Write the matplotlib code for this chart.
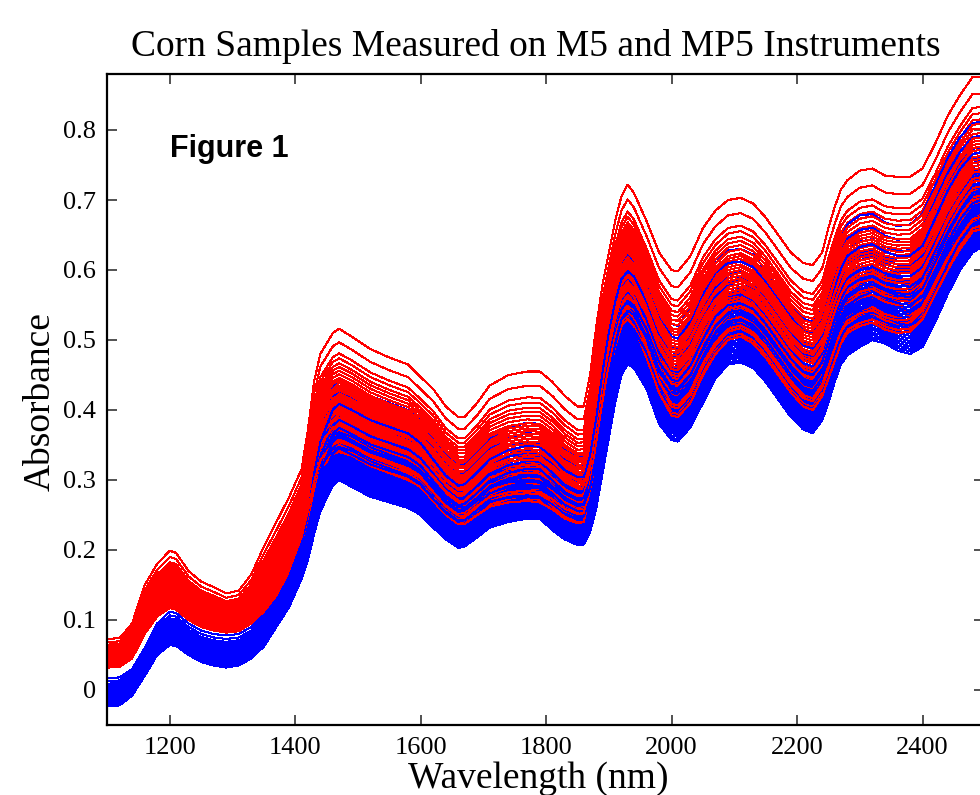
import numpy as np
import matplotlib
matplotlib.use('Agg')
import matplotlib.pyplot as plt
from matplotlib.ticker import FuncFormatter

wavelength = [1100, 1120, 1140, 1160, 1180, 1200, 1210, 1230, 1250, 1270,
              1290, 1310, 1330, 1350, 1370, 1390, 1410, 1420, 1430, 1440,
              1460, 1470, 1490, 1520, 1550, 1580, 1600, 1620, 1640, 1660,
              1670, 1690, 1710, 1740, 1770, 1790, 1810, 1830, 1850, 1860,
              1870, 1880, 1890, 1900, 1910, 1920, 1930, 1940, 1960, 1980,
              2000, 2010, 2030, 2050, 2070, 2090, 2110, 2130, 2150, 2170,
              2190, 2210, 2225, 2240, 2250, 2260, 2270, 2280, 2300, 2320,
              2340, 2360, 2380, 2400, 2420, 2440, 2460, 2480, 2498]

# MP5 (red): highest and lowest spectrum
mp5_high = [0.073, 0.074, 0.095, 0.150, 0.180, 0.199, 0.196, 0.170, 0.155, 0.147,
            0.138, 0.142, 0.165, 0.205, 0.240, 0.275, 0.315, 0.370, 0.440, 0.480,
            0.510, 0.516, 0.505, 0.487, 0.475, 0.465, 0.447, 0.430, 0.405, 0.390,
            0.390, 0.410, 0.435, 0.450, 0.455, 0.455, 0.440, 0.420, 0.405, 0.405,
            0.450, 0.520, 0.580, 0.625, 0.670, 0.705, 0.722, 0.710, 0.670, 0.625,
            0.600, 0.598, 0.620, 0.660, 0.685, 0.700, 0.703, 0.695, 0.675, 0.650,
            0.625, 0.610, 0.607, 0.625, 0.660, 0.690, 0.715, 0.728, 0.742, 0.745,
            0.735, 0.733, 0.733, 0.745, 0.780, 0.820, 0.850, 0.876, 0.876]
mp5_low = [0.032, 0.033, 0.045, 0.080, 0.105, 0.117, 0.115, 0.100, 0.090, 0.085,
           0.082, 0.084, 0.095, 0.112, 0.135, 0.165, 0.210, 0.245, 0.285, 0.315,
           0.337, 0.340, 0.335, 0.320, 0.310, 0.300, 0.290, 0.270, 0.250, 0.237,
           0.237, 0.250, 0.262, 0.268, 0.270, 0.268, 0.258, 0.245, 0.238, 0.240,
           0.280, 0.340, 0.400, 0.450, 0.490, 0.520, 0.530, 0.520, 0.475, 0.425,
           0.392, 0.390, 0.410, 0.450, 0.480, 0.500, 0.505, 0.495, 0.475, 0.450,
           0.425, 0.405, 0.400, 0.420, 0.445, 0.470, 0.495, 0.510, 0.520, 0.525,
           0.515, 0.510, 0.512, 0.530, 0.565, 0.600, 0.630, 0.655, 0.660]

# M5 (blue): highest and lowest spectrum
m5_high = [0.017, 0.018, 0.030, 0.060, 0.095, 0.112, 0.110, 0.095, 0.085, 0.080,
           0.078, 0.080, 0.090, 0.110, 0.140, 0.175, 0.225, 0.270, 0.335, 0.385,
           0.435, 0.443, 0.435, 0.420, 0.410, 0.400, 0.385, 0.360, 0.335, 0.320,
           0.322, 0.340, 0.360, 0.375, 0.382, 0.380, 0.365, 0.345, 0.335, 0.335,
           0.370, 0.430, 0.500, 0.560, 0.600, 0.630, 0.640, 0.632, 0.595, 0.550,
           0.523, 0.520, 0.545, 0.585, 0.615, 0.628, 0.630, 0.622, 0.600, 0.575,
           0.550, 0.530, 0.526, 0.545, 0.580, 0.615, 0.645, 0.665, 0.678, 0.680,
           0.668, 0.663, 0.665, 0.680, 0.720, 0.760, 0.790, 0.810, 0.812]
m5_low = [-0.023, -0.022, -0.008, 0.020, 0.050, 0.064, 0.063, 0.050, 0.040, 0.035,
          0.032, 0.035, 0.045, 0.062, 0.090, 0.118, 0.158, 0.185, 0.222, 0.255,
          0.292, 0.300, 0.290, 0.276, 0.268, 0.260, 0.250, 0.232, 0.215, 0.203,
          0.205, 0.218, 0.232, 0.240, 0.245, 0.245, 0.228, 0.215, 0.207, 0.208,
          0.225, 0.260, 0.310, 0.360, 0.410, 0.450, 0.465, 0.460, 0.430, 0.380,
          0.357, 0.355, 0.375, 0.410, 0.445, 0.465, 0.468, 0.460, 0.440, 0.415,
          0.390, 0.372, 0.367, 0.385, 0.410, 0.440, 0.465, 0.478, 0.490, 0.500,
          0.495, 0.485, 0.480, 0.490, 0.525, 0.565, 0.600, 0.625, 0.635]

# where each of the 80 corn samples sits between the lowest and highest
# spectrum, in sample order (same samples on both instruments)
sample_level = [0.30, 0.04, 0.48, 0.16, 0.72, 0.26, 0.00, 0.38, 0.12, 0.56,
                0.20, 0.04, 0.42, 0.10, 0.32, 1.00, 0.14, 0.46, 0.06, 0.26,
                0.52, 0.00, 0.36, 0.20, 0.63, 0.08, 0.40, 0.24, 0.02, 0.50,
                0.14, 0.32, 0.80, 0.06, 0.44, 0.22, 0.02, 0.38, 0.10, 0.54,
                0.28, 0.16, 0.66, 0.04, 0.40, 0.18, 0.34, 0.00, 0.48, 0.12,
                0.26, 0.89, 0.06, 0.36, 0.20, 0.58, 0.08, 0.42, 0.14, 0.30,
                0.02, 0.50, 0.24, 0.69, 0.10, 0.34, 0.18, 0.02, 0.46, 0.28,
                0.60, 0.06, 0.38, 0.22, 0.52, 0.00, 0.32, 0.76, 0.08, 0.44]

serif = 'Liberation Serif'

fig = plt.figure(figsize=(9.8, 7.95), dpi=100)
ax = fig.add_axes([107 / 980, 1 - 725 / 795, 877 / 980, 651 / 795])

wl = np.array(wavelength)
m5_low, m5_high = np.array(m5_low), np.array(m5_high)
mp5_low, mp5_high = np.array(mp5_low), np.array(mp5_high)
for f in sample_level:
    ax.plot(wl, m5_low + f * (m5_high - m5_low), color='#0000ff', lw=0.75,
            antialiased=False)
    ax.plot(wl, mp5_low + f * (mp5_high - mp5_low), color='#ff0000', lw=0.75,
            antialiased=False)

ax.set_xlim(1100, 2498)
ax.set_ylim(-0.05, 0.88)
ax.set_xticks([1200, 1400, 1600, 1800, 2000, 2200, 2400])
ax.set_yticks([0, 0.1, 0.2, 0.3, 0.4, 0.5, 0.6, 0.7, 0.8])
ax.yaxis.set_major_formatter(FuncFormatter(lambda v, p: '0' if abs(v) < 1e-9 else '%.1f' % v))
ax.tick_params(direction='in', top=True, right=True, length=7, width=1.2,
               color='#333333', labelsize=19)
ax.tick_params(axis='x', pad=9)
ax.tick_params(axis='y', pad=8)
for lab in ax.get_xticklabels() + ax.get_yticklabels():
    lab.set_fontfamily(serif)
for sp in ax.spines.values():
    sp.set_linewidth(1.6)

ax.text(1200, 0.761, 'Figure 1', fontsize=22, fontweight='bold',
        family='Liberation Sans', ha='left', va='baseline')

fig.text(536 / 980, 1 - 56 / 795, 'Corn Samples Measured on M5 and MP5 Instruments',
         fontsize=27, family=serif, ha='center', va='baseline')
fig.text(538 / 980, 1 - 788 / 795, 'Wavelength (nm)', fontsize=27, family=serif,
         ha='center', va='baseline')
fig.text(40 / 980, 1 - 402 / 795, 'Absorbance', fontsize=27, family=serif,
         rotation=90, ha='center', va='center')

fig.savefig('out.png', dpi=100)
